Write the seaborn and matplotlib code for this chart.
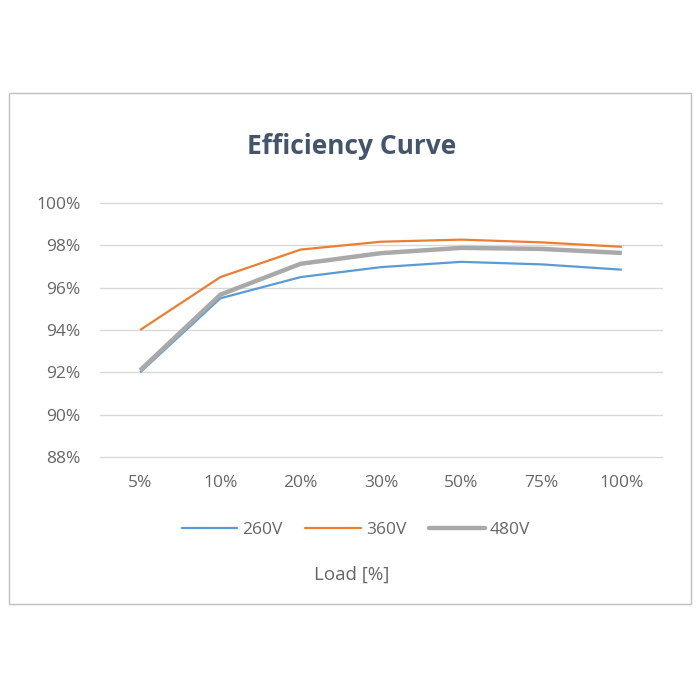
import matplotlib
matplotlib.use("Agg")
import matplotlib.pyplot as plt
import seaborn as sns
import pandas as pd
from matplotlib.patches import Rectangle
from matplotlib.ticker import FuncFormatter
from matplotlib.lines import Line2D

loads = ["5%", "10%", "20%", "30%", "50%", "75%", "100%"]
eff_260 = [92.0, 95.5, 96.5, 96.97, 97.22, 97.1, 96.85]
eff_360 = [94.0, 96.5, 97.8, 98.17, 98.27, 98.14, 97.93]
eff_480 = [92.1, 95.67, 97.13, 97.63, 97.88, 97.83, 97.64]
series = ["260V", "360V", "480V"]
colors = ["#5B9BD5", "#ED7D31", "#A9A9A9"]
widths = [1.6, 1.6, 3.2]

rows = []
for name, vals in zip(series, [eff_260, eff_360, eff_480]):
    for l, v in zip(loads, vals):
        rows.append({"Load": l, "Efficiency": v, "Series": name})
df = pd.DataFrame(rows)

sns.set_theme(style="white")
plt.rcParams['font.family'] = ['Open Sans', 'DejaVu Sans']

fig = plt.figure(figsize=(7, 7), dpi=100)
ax = fig.add_axes([100/700, 1-457/700, 562/700, 254/700])

sns.lineplot(data=df, x="Load", y="Efficiency", hue="Series", palette=colors,
             ax=ax, legend=False, sort=False)
for line, w in zip(ax.get_lines(), widths):
    line.set_linewidth(w)
    line.set_solid_capstyle("butt")

ax.set_xlim(-0.5, 6.5)
ax.set_ylim(88, 100)
ax.set_yticks([88, 90, 92, 94, 96, 98, 100])
ax.yaxis.set_major_formatter(FuncFormatter(lambda v, p: f"{v:.0f}%"))
ax.grid(axis="y", color="#D9D9D9", linewidth=1.0)
for gl in ax.get_ygridlines():
    gl.set_clip_on(False)
ax.set_axisbelow(True)
for s in ax.spines.values():
    s.set_visible(False)
ax.tick_params(axis="both", length=0, labelsize=12.5, labelcolor="#666666")
ax.tick_params(axis="x", pad=13)
ax.tick_params(axis="y", pad=14)
ax.set_xlabel("")
ax.set_ylabel("")

fig.text(352/700, 1-147/700, "Efficiency Curve", ha="center", va="center",
         fontsize=19, fontweight="bold", color="#44546A")
fig.text(352/700, 1-575/700, "Load [%]", ha="center", va="center",
         fontsize=13.5, color="#666666")

handles = [Line2D([0], [0], color=c, lw=w) for c, w in zip(colors, widths)]
leg = fig.legend(handles, series, loc="center", bbox_to_anchor=(356/700, 1-530/700),
                 ncol=3, frameon=False, fontsize=12.5, handlelength=3.2,
                 handletextpad=0.3, columnspacing=1.3)
for t in leg.get_texts():
    t.set_color("#666666")

fig.patches.append(Rectangle((9/700, 1-604/700), 682/700, 511/700,
                             transform=fig.transFigure, fill=False,
                             edgecolor="#BFBFBF", linewidth=1.0))

fig.savefig("out.png", dpi=100, facecolor="white")
